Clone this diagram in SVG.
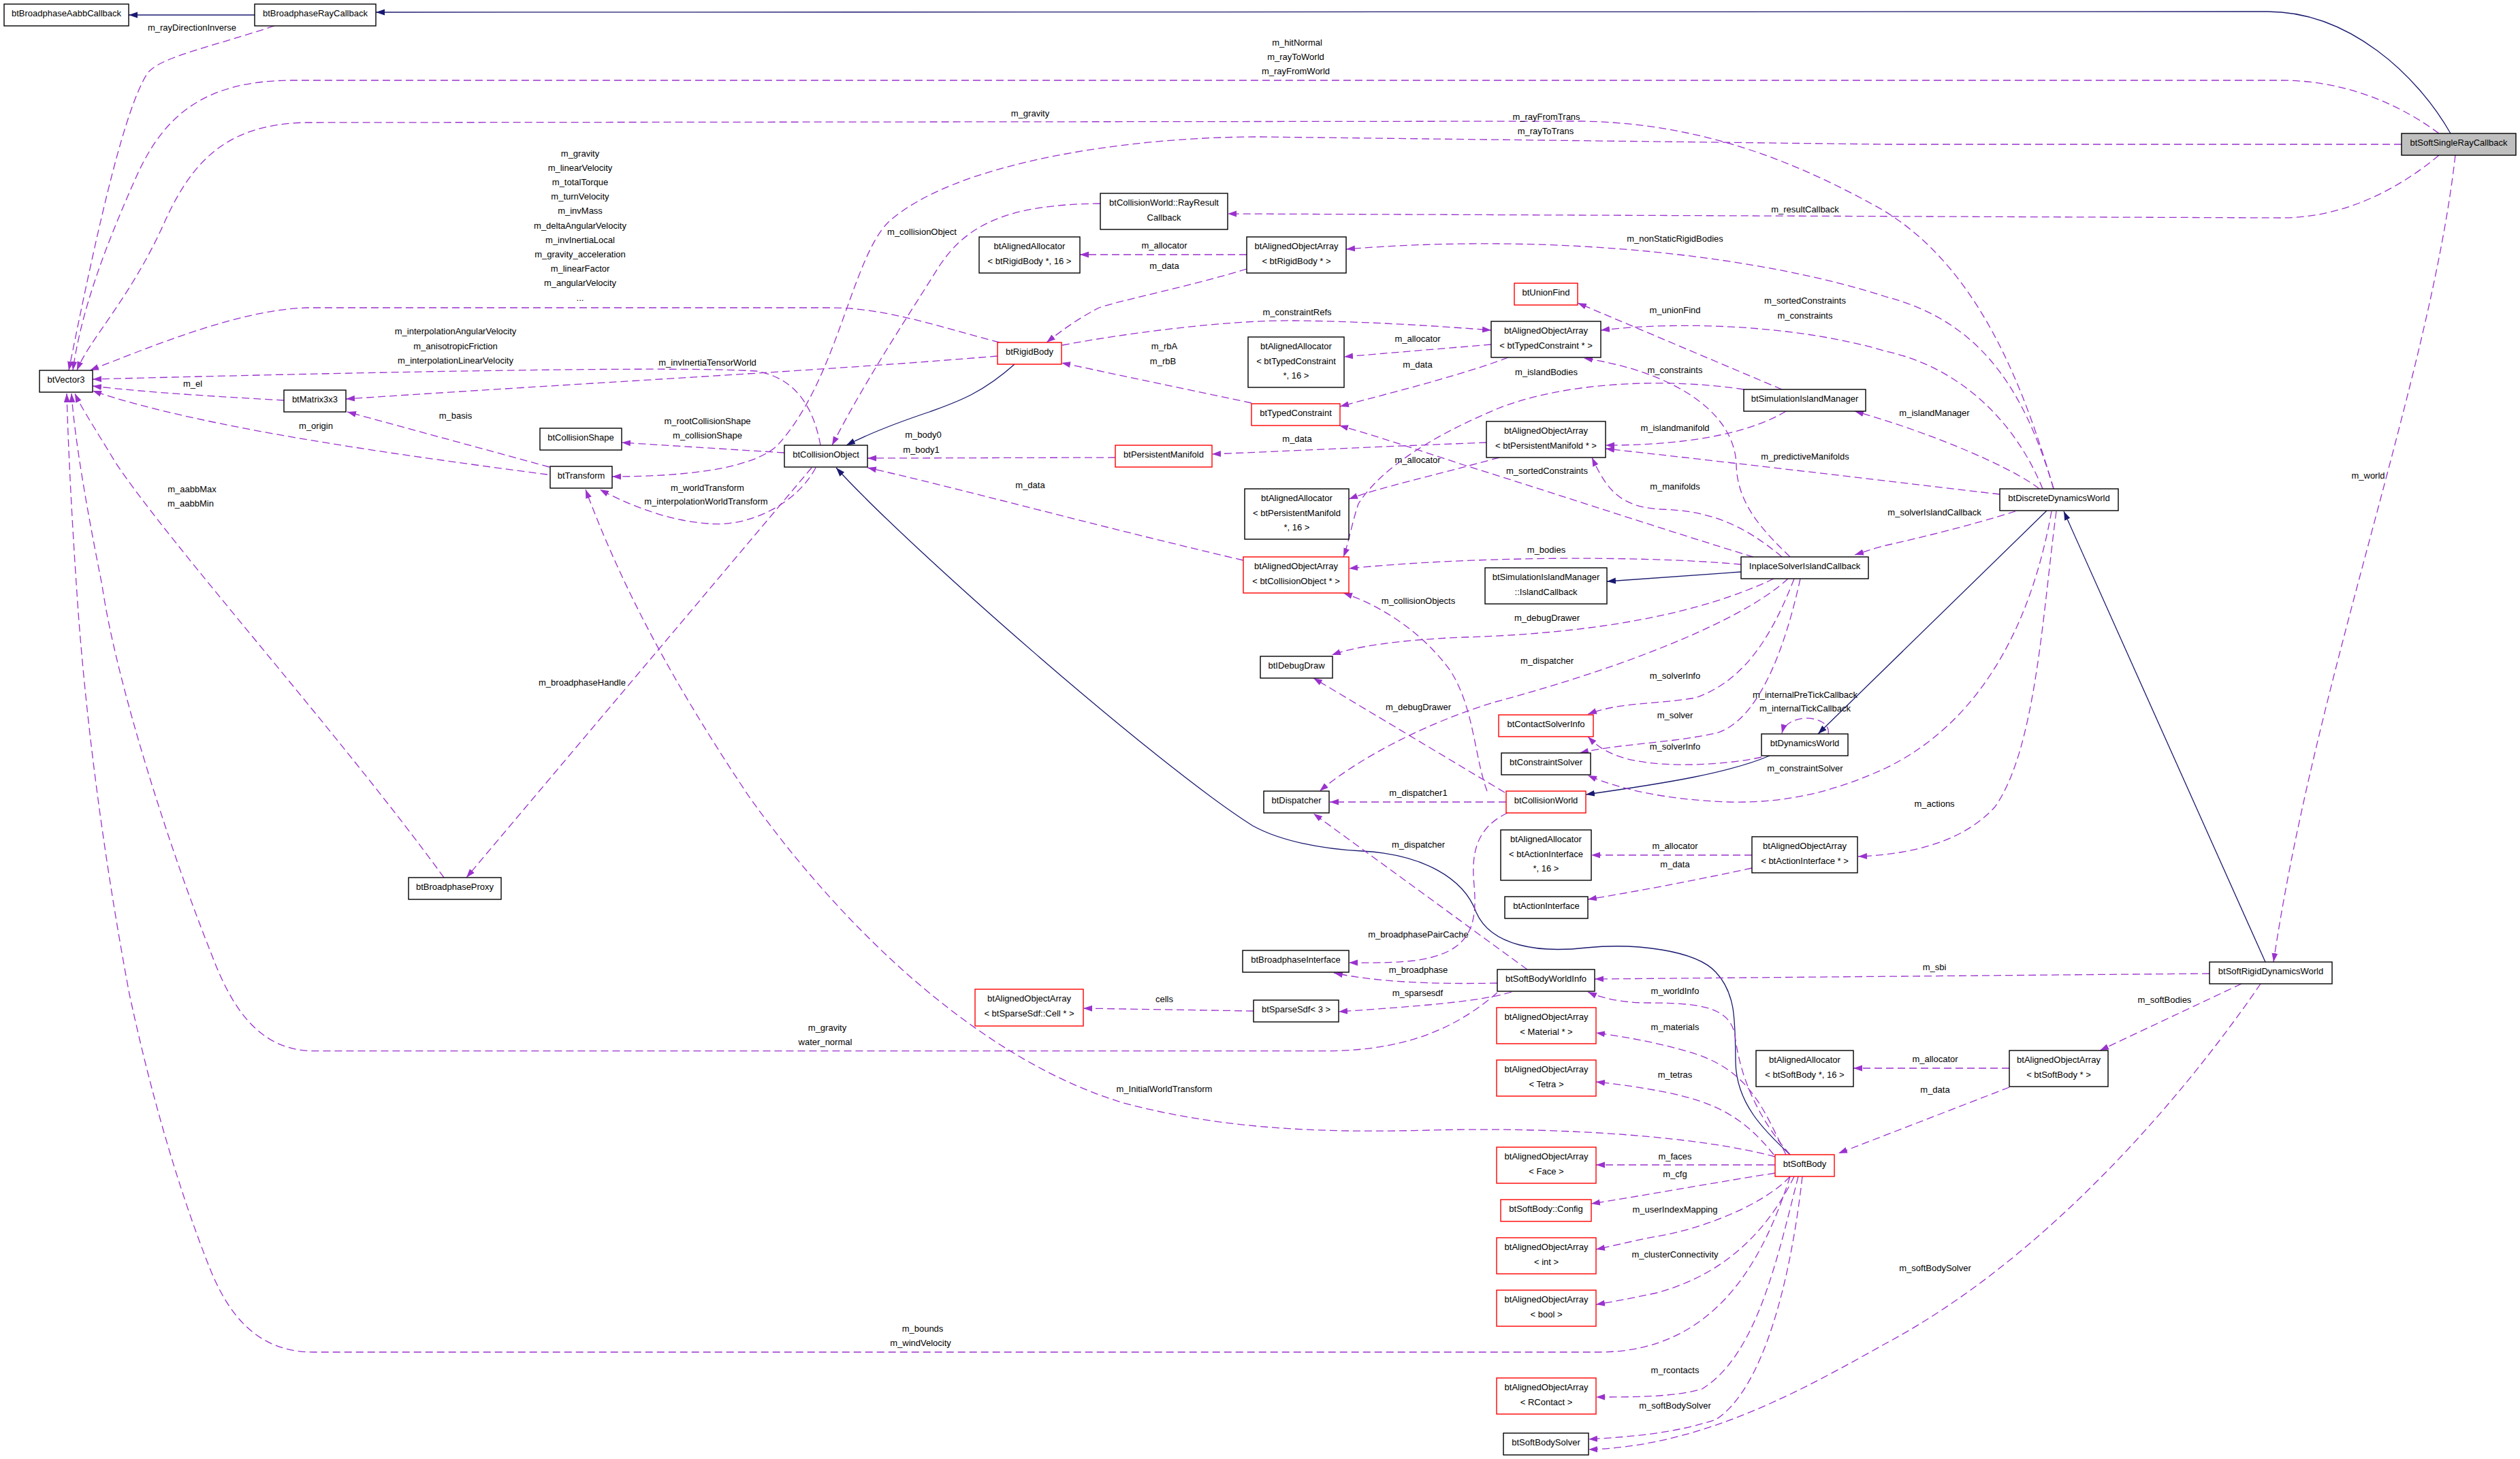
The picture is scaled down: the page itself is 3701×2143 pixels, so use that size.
<svg xmlns="http://www.w3.org/2000/svg" width="3701" height="2143" viewBox="0 0 3701 2143">
<defs>
<style>
.n rect{fill:#fff;stroke:#000;stroke-width:1.4}
.n.r rect{stroke:#f00}
.n.root rect{fill:#bfbfbf}
text{font-family:"Liberation Sans",Arial,Helvetica,sans-serif;font-size:13px;text-anchor:middle;fill:#000}
#edges path{fill:none}
.d{stroke:#9a32cd;stroke-width:1.3;stroke-dasharray:11,6;marker-end:url(#ap)}
.s{stroke:#191970;stroke-width:1.3;marker-end:url(#an)}
</style>
<marker id="ap" markerUnits="userSpaceOnUse" markerWidth="14" markerHeight="10" refX="13" refY="5" orient="auto"><path d="M0,0.5 L13,5 L0,9.5 z" fill="#9a32cd"/></marker>
<marker id="an" markerUnits="userSpaceOnUse" markerWidth="14" markerHeight="10" refX="13" refY="5" orient="auto"><path d="M0,0.5 L13,5 L0,9.5 z" fill="#191970"/></marker>
</defs>
<rect width="3701" height="2143" fill="#fff"/>
<g id="edges">
<path class="s" d="M374,22 L189,22"/>
<path class="s" d="M3599,196 C3550,110 3450,17 3330,17 L552,18"/>
<path class="s" d="M1490,535 C1440,580 1400,592 1365,605 C1320,620 1280,635 1243,654"/>
<path class="s" d="M2629,1696 C2590,1660 2550,1620 2549,1560 C2548,1500 2550,1460 2520,1428 C2490,1395 2400,1385 2330,1392 C2260,1400 2190,1390 2168,1340 C2150,1290 2090,1255 2000,1250 C1940,1247 1880,1235 1840,1213 C1700,1125 1330,800 1228,687"/>
<path class="s" d="M3006,750 L2670,1078"/>
<path class="s" d="M2599,1110 C2540,1135 2450,1150 2329,1167"/>
<path class="s" d="M3327,1413 L3031,751"/>
<path class="s" d="M2557,840 L2360,854"/>

<path class="d" d="M403,38 C300,72 230,85 215,110 C185,160 150,300 101,544"/>
<path class="d" d="M3582,196 C3520,150 3440,118 3350,118 L430,118 C300,118 240,170 200,260 C160,350 120,450 107,544"/>
<path class="d" d="M3016,718 C2970,560 2900,380 2750,300 C2640,240 2500,180 2320,178 L450,180 C330,182 280,240 240,330 C190,440 130,500 113,544"/>
<path class="d" d="M3527,212 L2770,212 L1850,201 C1650,201 1400,240 1305,326 C1250,380 1230,560 1140,656 C1100,690 1000,700 899,700"/>
<path class="d" d="M1616,299 C1480,300 1420,330 1380,390 C1330,470 1270,560 1222,654"/>
<path class="d" d="M3582,228 C3520,280 3440,320 3350,320 L1803,314"/>
<path class="d" d="M1468,503 C1380,480 1300,452 1220,452 L450,452 C350,455 220,510 132,544"/>
<path class="d" d="M1205,654 C1195,600 1170,555 1110,545 C1000,538 600,545 136,557"/>
<path class="d" d="M1465,523 C1200,545 900,560 508,586"/>
<path class="d" d="M417,588 C330,583 220,577 136,567"/>
<path class="d" d="M807,686 L510,605"/>
<path class="d" d="M804,697 C600,670 300,630 136,574"/>
<path class="d" d="M1152,665 L913,650"/>
<path class="d" d="M1198,687 C1170,740 1100,775 1040,769 C980,765 920,740 881,719"/>
<path class="d" d="M1192,687 L685,1289"/>
<path class="d" d="M2607,1699 C2500,1670 2300,1655 2100,1660 C1950,1664 1800,1660 1650,1620 C1450,1560 1250,1380 1100,1170 C1000,1020 920,880 860,719"/>
<path class="d" d="M652,1289 C500,1080 250,800 170,680 C140,630 120,600 110,578"/>
<path class="d" d="M2199,1458 C2150,1500 2080,1543 1950,1543.6 L460,1543.6 C380,1543 340,1480 310,1400 C250,1250 170,1000 150,860 C130,760 110,650 105,578"/>
<path class="d" d="M2629,1728 C2590,1850 2520,1985 2350,1986 L460,1986 C370,1986 330,1920 305,1855 C260,1740 220,1600 190,1460 C160,1300 130,1100 115,900 C105,760 100,650 98,578"/>
<path class="d" d="M3245,1430 L2342,1438"/>
<path class="d" d="M3606,228 C3570,550 3400,1000 3339,1413"/>
<path class="d" d="M3292,1445 L3084,1543"/>
<path class="d" d="M3320,1445 C3200,1620 3000,1850 2770,1973 C2650,2040 2500,2125 2333,2129"/>
<path class="d" d="M2951,1569 L2722,1569"/>
<path class="d" d="M2951,1597 L2700,1694"/>
<path class="d" d="M2629,1696 C2580,1640 2555,1580 2548,1520 C2540,1480 2500,1473 2420,1473 C2380,1473 2350,1465 2332,1457"/>
<path class="d" d="M2623,1696 C2590,1630 2570,1570 2480,1545 C2430,1530 2380,1522 2344,1517"/>
<path class="d" d="M2605,1696 C2560,1640 2520,1620 2450,1605 C2400,1595 2370,1592 2344,1589"/>
<path class="d" d="M2607,1711 L2344,1711"/>
<path class="d" d="M2607,1723 C2500,1740 2420,1755 2337,1768"/>
<path class="d" d="M2629,1728 C2590,1770 2500,1805 2433,1816 C2400,1822 2370,1830 2344,1835"/>
<path class="d" d="M2635,1728 C2600,1800 2540,1870 2433,1899 C2400,1906 2370,1912 2344,1916"/>
<path class="d" d="M2641,1728 C2610,1850 2580,1990 2500,2040 C2460,2052 2400,2052 2344,2052"/>
<path class="d" d="M2647,1728 C2630,1880 2590,2040 2520,2085 C2460,2105 2400,2110 2333,2114"/>
<path class="d" d="M2199,1444 C2100,1446 2020,1442 1959,1429"/>
<path class="d" d="M2220,1457 C2170,1472 2080,1478 1966,1486"/>
<path class="d" d="M1841,1485 L1591,1481"/>
<path class="d" d="M2243,1424 L1929,1195"/>
<path class="d" d="M2214,1194 C2170,1215 2160,1250 2165,1300 C2170,1360 2160,1400 2077,1411 C2040,1415 2010,1414 1981,1414"/>
<path class="d" d="M2212,1178 L1953,1178"/>
<path class="d" d="M2210,1164 L1929,996"/>
<path class="d" d="M2184,1162 C2165,1110 2165,1040 2130,985 C2090,930 2030,890 1973,871"/>
<path class="d" d="M2557,829 C2400,815 2150,818 1981,835"/>
<path class="d" d="M2605,850 C2500,900 2350,930 2150,936 C2050,940 1990,950 1956,962"/>
<path class="d" d="M2626,850 C2550,920 2350,990 2196,1031 C2100,1060 2000,1110 1938,1162"/>
<path class="d" d="M2635,850 C2600,940 2560,1000 2490,1025 C2430,1035 2380,1031 2332,1049"/>
<path class="d" d="M2644,850 C2620,960 2580,1060 2520,1077 C2450,1092 2380,1092 2320,1106"/>
<path class="d" d="M2587,1112 C2530,1125 2420,1130 2370,1108 C2350,1100 2340,1090 2332,1082"/>
<path class="d" d="M2685,1078 C2690,1050 2625,1045 2617,1077"/>
<path class="d" d="M3013,751 C2990,880 2930,1050 2770,1128 C2700,1160 2630,1180 2540,1178 C2450,1175 2380,1160 2332,1139"/>
<path class="d" d="M3020,751 C3000,900 2990,1100 2930,1185 C2880,1240 2800,1255 2729,1258"/>
<path class="d" d="M2960,751 C2900,770 2820,790 2770,801 C2750,806 2740,810 2724,815"/>
<path class="d" d="M2937,726 C2800,710 2550,680 2358,659"/>
<path class="d" d="M2995,718 C2960,690 2850,640 2724,604"/>
<path class="d" d="M3000,718 C2960,620 2880,540 2770,516 C2650,480 2480,470 2351,485"/>
<path class="d" d="M3016,718 C2970,560 2900,470 2770,436 C2600,380 2300,340 1977,366"/>
<path class="d" d="M2623,604 C2580,630 2500,654 2358,654"/>
<path class="d" d="M2617,572 L2317,445"/>
<path class="d" d="M2561,572 C2450,555 2300,560 2200,600 C2080,650 2020,700 1995,740 C1985,770 1980,800 1973,818"/>
<path class="d" d="M2629,818 C2590,780 2550,740 2550,680 C2545,600 2450,545 2326,526"/>
<path class="d" d="M2575,818 C2450,780 2300,730 2150,683 C2080,660 2020,640 1967,625"/>
<path class="d" d="M2617,818 C2560,770 2510,750 2440,748 C2380,745 2360,720 2338,672"/>
<path class="d" d="M2183,650 C2050,655 1900,662 1780,667"/>
<path class="d" d="M2202,672 C2100,700 2030,715 1981,733"/>
<path class="d" d="M1826,823 C1600,770 1400,715 1274,687"/>
<path class="d" d="M1638,672 L1274,673"/>
<path class="d" d="M1838,592 L1559,533"/>
<path class="d" d="M1560,507 C1650,490 1800,470 1900,471 C2000,472 2100,478 2190,485"/>
<path class="d" d="M2190,506 L1974,524"/>
<path class="d" d="M2215,525 C2150,550 2050,575 1968,597"/>
<path class="d" d="M1831,374 L1586,374"/>
<path class="d" d="M1831,395 C1750,420 1650,440 1614,452 C1580,470 1560,485 1537,503"/>
<path class="d" d="M2573,1256 L2337,1256"/>
<path class="d" d="M2573,1275 C2480,1295 2400,1310 2332,1321"/>

<text x="282" y="44.5">m_rayDirectionInverse</text>
<text x="1905" y="67">m_hitNormal</text>
<text x="1903" y="88">m_rayToWorld</text>
<text x="1903" y="109">m_rayFromWorld</text>
<text x="1513" y="171">m_gravity</text>
<text x="2271" y="175.5">m_rayFromTrans</text>
<text x="2270" y="196.5">m_rayToTrans</text>
<text x="1354" y="344.5">m_collisionObject</text>
<text x="2651" y="311.5">m_resultCallback</text>
<text x="2460" y="355">m_nonStaticRigidBodies</text>
<text x="1710" y="365">m_allocator</text>
<text x="1710" y="394.5">m_data</text>
<text x="852" y="229.5">m_gravity</text>
<text x="852" y="250.7">m_linearVelocity</text>
<text x="852" y="271.9">m_totalTorque</text>
<text x="852" y="293.1">m_turnVelocity</text>
<text x="852" y="314.3">m_invMass</text>
<text x="852" y="335.5">m_deltaAngularVelocity</text>
<text x="852" y="356.7">m_invInertiaLocal</text>
<text x="852" y="377.9">m_gravity_acceleration</text>
<text x="852" y="399.1">m_linearFactor</text>
<text x="852" y="420.3">m_angularVelocity</text>
<text x="852" y="441.5">...</text>
<text x="2651" y="445.5">m_sortedConstraints</text>
<text x="2651" y="467.5">m_constraints</text>
<text x="2460" y="460">m_unionFind</text>
<text x="1905" y="462.5">m_constraintRefs</text>
<text x="669" y="491.3">m_interpolationAngularVelocity</text>
<text x="669" y="512.5">m_anisotropicFriction</text>
<text x="669" y="533.5">m_interpolationLinearVelocity</text>
<text x="2082" y="501.5">m_allocator</text>
<text x="1710" y="512.5">m_rbA</text>
<text x="1708" y="534.5">m_rbB</text>
<text x="1039" y="537">m_invInertiaTensorWorld</text>
<text x="2082" y="540">m_data</text>
<text x="2460" y="548">m_constraints</text>
<text x="2271" y="551">m_islandBodies</text>
<text x="283" y="567.5">m_el</text>
<text x="2841" y="611">m_islandManager</text>
<text x="669" y="615">m_basis</text>
<text x="1039" y="623">m_rootCollisionShape</text>
<text x="1039" y="643.5">m_collisionShape</text>
<text x="464" y="629.5">m_origin</text>
<text x="2460" y="632.5">m_islandmanifold</text>
<text x="1356" y="642.5">m_body0</text>
<text x="1353" y="664.5">m_body1</text>
<text x="1905" y="649">m_data</text>
<text x="2651" y="675">m_predictiveManifolds</text>
<text x="2082" y="679.5">m_allocator</text>
<text x="2272" y="696">m_sortedConstraints</text>
<text x="1513" y="717">m_data</text>
<text x="2460" y="718.5">m_manifolds</text>
<text x="282" y="723">m_aabbMax</text>
<text x="280" y="744">m_aabbMin</text>
<text x="1039" y="720.5">m_worldTransform</text>
<text x="1037" y="741">m_interpolationWorldTransform</text>
<text x="3478" y="703">m_world</text>
<text x="2841" y="756.5">m_solverIslandCallback</text>
<text x="2271" y="812">m_bodies</text>
<text x="2083" y="887">m_collisionObjects</text>
<text x="2272" y="912">m_debugDrawer</text>
<text x="2272" y="975">m_dispatcher</text>
<text x="855" y="1007">m_broadphaseHandle</text>
<text x="2460" y="997">m_solverInfo</text>
<text x="2651" y="1024.5">m_internalPreTickCallback</text>
<text x="2651" y="1045">m_internalTickCallback</text>
<text x="2083" y="1043">m_debugDrawer</text>
<text x="2460" y="1055">m_solver</text>
<text x="2460" y="1101">m_solverInfo</text>
<text x="2651" y="1133">m_constraintSolver</text>
<text x="2083" y="1169">m_dispatcher1</text>
<text x="2841" y="1185">m_actions</text>
<text x="2083" y="1245">m_dispatcher</text>
<text x="2460" y="1247">m_allocator</text>
<text x="2460" y="1273.5">m_data</text>
<text x="2083" y="1377">m_broadphasePairCache</text>
<text x="2841" y="1424.5">m_sbi</text>
<text x="2083" y="1429">m_broadphase</text>
<text x="2460" y="1460">m_worldInfo</text>
<text x="2082" y="1463">m_sparsesdf</text>
<text x="1710" y="1472">cells</text>
<text x="3179" y="1473">m_softBodies</text>
<text x="2460" y="1513">m_materials</text>
<text x="1215" y="1513.5">m_gravity</text>
<text x="1212" y="1535">water_normal</text>
<text x="2842" y="1560">m_allocator</text>
<text x="2460" y="1583">m_tetras</text>
<text x="1710" y="1603.5">m_InitialWorldTransform</text>
<text x="2842" y="1605">m_data</text>
<text x="2460" y="1703">m_faces</text>
<text x="2460" y="1729">m_cfg</text>
<text x="2460" y="1780.5">m_userIndexMapping</text>
<text x="2460" y="1847">m_clusterConnectivity</text>
<text x="2842" y="1867">m_softBodySolver</text>
<text x="1355" y="1955.5">m_bounds</text>
<text x="1352" y="1977">m_windVelocity</text>
<text x="2460" y="2017">m_rcontacts</text>
<text x="2460" y="2068.5">m_softBodySolver</text>
</g>

<g id="btBroadphaseAabbCallback" class="n"><rect x="6" y="6" width="183" height="32"/><text x="97.5" y="24">btBroadphaseAabbCallback</text></g>
<g id="btBroadphaseRayCallback" class="n"><rect x="374" y="6" width="178" height="32"/><text x="463" y="24">btBroadphaseRayCallback</text></g>
<g id="btVector3" class="n"><rect x="58" y="544" width="78" height="32"/><text x="97" y="562">btVector3</text></g>
<g id="btMatrix3x3" class="n"><rect x="417" y="573" width="91" height="32"/><text x="462.5" y="591">btMatrix3x3</text></g>
<g id="btCollisionShape" class="n"><rect x="793" y="629" width="120" height="32"/><text x="853" y="647">btCollisionShape</text></g>
<g id="btTransform" class="n"><rect x="808" y="685" width="91" height="32"/><text x="853.5" y="703">btTransform</text></g>
<g id="RayResultCallback" class="n"><rect x="1616" y="284" width="187" height="53"/><text x="1709.5" y="302">btCollisionWorld::RayResult</text><text x="1709.5" y="324">Callback</text></g>
<g id="allocRigidBody" class="n"><rect x="1438" y="348" width="148" height="53"/><text x="1512" y="366">btAlignedAllocator</text><text x="1512" y="388">&lt; btRigidBody *, 16 &gt;</text></g>
<g id="arrRigidBody" class="n"><rect x="1831" y="348" width="146" height="53"/><text x="1904" y="366">btAlignedObjectArray</text><text x="1904" y="388">&lt; btRigidBody * &gt;</text></g>
<g id="btRigidBody" class="n r"><rect x="1465" y="503" width="94" height="32"/><text x="1512" y="521">btRigidBody</text></g>
<g id="btCollisionObject" class="n"><rect x="1152" y="654" width="122" height="32"/><text x="1213" y="672">btCollisionObject</text></g>
<g id="btPersistentManifold" class="n r"><rect x="1638" y="654" width="142" height="32"/><text x="1709" y="672">btPersistentManifold</text></g>
<g id="btTypedConstraint" class="n r"><rect x="1838" y="593" width="130" height="32"/><text x="1903" y="611">btTypedConstraint</text></g>
<g id="allocTypedConstraint" class="n"><rect x="1833" y="495" width="141" height="74"/><text x="1903.5" y="513">btAlignedAllocator</text><text x="1903.5" y="534.5">&lt; btTypedConstraint</text><text x="1903.5" y="556">*, 16 &gt;</text></g>
<g id="btUnionFind" class="n r"><rect x="2224" y="416" width="93" height="32"/><text x="2270.5" y="434">btUnionFind</text></g>
<g id="arrTypedConstraint" class="n"><rect x="2190" y="472" width="161" height="53"/><text x="2270.5" y="490">btAlignedObjectArray</text><text x="2270.5" y="512">&lt; btTypedConstraint * &gt;</text></g>
<g id="btSimulationIslandManager" class="n"><rect x="2561" y="572" width="179" height="32"/><text x="2650.5" y="590">btSimulationIslandManager</text></g>
<g id="arrPersistentManifold" class="n"><rect x="2183" y="619" width="175" height="53"/><text x="2270.5" y="637">btAlignedObjectArray</text><text x="2270.5" y="659">&lt; btPersistentManifold * &gt;</text></g>
<g id="btSoftSingleRayCallback" class="n root"><rect x="3527" y="196" width="168" height="32"/><text x="3611" y="214">btSoftSingleRayCallback</text></g>
<g id="btDiscreteDynamicsWorld" class="n"><rect x="2937" y="718" width="174" height="32"/><text x="3024" y="736">btDiscreteDynamicsWorld</text></g>
<g id="btSoftRigidDynamicsWorld" class="n"><rect x="3245" y="1413" width="180" height="32"/><text x="3335" y="1431">btSoftRigidDynamicsWorld</text></g>
<g id="allocPersistentManifold" class="n"><rect x="1828" y="718" width="153" height="74"/><text x="1904.5" y="736">btAlignedAllocator</text><text x="1904.5" y="757.5">&lt; btPersistentManifold</text><text x="1904.5" y="779">*, 16 &gt;</text></g>
<g id="arrCollisionObject" class="n r"><rect x="1826" y="818" width="155" height="53"/><text x="1903.5" y="836">btAlignedObjectArray</text><text x="1903.5" y="858">&lt; btCollisionObject * &gt;</text></g>
<g id="IslandCallback" class="n"><rect x="2181" y="834" width="179" height="53"/><text x="2270.5" y="852">btSimulationIslandManager</text><text x="2270.5" y="874">::IslandCallback</text></g>
<g id="InplaceSolverIslandCallback" class="n"><rect x="2557" y="818" width="187" height="32"/><text x="2650.5" y="836">InplaceSolverIslandCallback</text></g>
<g id="btIDebugDraw" class="n"><rect x="1851" y="964" width="106" height="32"/><text x="1904" y="982">btIDebugDraw</text></g>
<g id="btContactSolverInfo" class="n r"><rect x="2201" y="1050" width="139" height="32"/><text x="2270.5" y="1068">btContactSolverInfo</text></g>
<g id="btConstraintSolver" class="n"><rect x="2205" y="1106" width="131" height="32"/><text x="2270.5" y="1124">btConstraintSolver</text></g>
<g id="btDynamicsWorld" class="n"><rect x="2587" y="1078" width="127" height="32"/><text x="2650.5" y="1096">btDynamicsWorld</text></g>
<g id="btDispatcher" class="n"><rect x="1856" y="1162" width="96" height="32"/><text x="1904" y="1180">btDispatcher</text></g>
<g id="btCollisionWorld" class="n r"><rect x="2212" y="1162" width="117" height="32"/><text x="2270.5" y="1180">btCollisionWorld</text></g>
<g id="allocActionInterface" class="n"><rect x="2204" y="1219" width="133" height="74"/><text x="2270.5" y="1237">btAlignedAllocator</text><text x="2270.5" y="1258.5">&lt; btActionInterface</text><text x="2270.5" y="1280">*, 16 &gt;</text></g>
<g id="arrActionInterface" class="n"><rect x="2573" y="1229" width="155" height="53"/><text x="2650.5" y="1247">btAlignedObjectArray</text><text x="2650.5" y="1269">&lt; btActionInterface * &gt;</text></g>
<g id="btActionInterface" class="n"><rect x="2210" y="1317" width="122" height="32"/><text x="2271" y="1335">btActionInterface</text></g>
<g id="btBroadphaseInterface" class="n"><rect x="1825" y="1396" width="156" height="32"/><text x="1903" y="1414">btBroadphaseInterface</text></g>
<g id="btBroadphaseProxy" class="n"><rect x="600" y="1289" width="136" height="32"/><text x="668" y="1307">btBroadphaseProxy</text></g>
<g id="arrSparseSdfCell" class="n r"><rect x="1432" y="1453" width="159" height="54"/><text x="1511.5" y="1471">btAlignedObjectArray</text><text x="1511.5" y="1493">&lt; btSparseSdf::Cell * &gt;</text></g>
<g id="btSoftBodyWorldInfo" class="n"><rect x="2199" y="1424" width="143" height="32"/><text x="2270.5" y="1442">btSoftBodyWorldInfo</text></g>
<g id="btSparseSdf3" class="n"><rect x="1841" y="1469" width="125" height="32"/><text x="1903.5" y="1487">btSparseSdf&lt; 3 &gt;</text></g>
<g id="arrMaterial" class="n r"><rect x="2198" y="1480" width="146" height="53"/><text x="2271" y="1498">btAlignedObjectArray</text><text x="2271" y="1520">&lt; Material * &gt;</text></g>
<g id="arrTetra" class="n r"><rect x="2198" y="1557" width="146" height="53"/><text x="2271" y="1575">btAlignedObjectArray</text><text x="2271" y="1597">&lt; Tetra &gt;</text></g>
<g id="allocSoftBody" class="n"><rect x="2579" y="1543" width="143" height="53"/><text x="2650.5" y="1561">btAlignedAllocator</text><text x="2650.5" y="1583">&lt; btSoftBody *, 16 &gt;</text></g>
<g id="btSoftBody" class="n r"><rect x="2607" y="1696" width="87" height="32"/><text x="2650.5" y="1714">btSoftBody</text></g>
<g id="arrFace" class="n r"><rect x="2198" y="1685" width="146" height="53"/><text x="2271" y="1703">btAlignedObjectArray</text><text x="2271" y="1725">&lt; Face &gt;</text></g>
<g id="btSoftBodyConfig" class="n r"><rect x="2204" y="1762" width="133" height="32"/><text x="2270.5" y="1780">btSoftBody::Config</text></g>
<g id="arrInt" class="n r"><rect x="2198" y="1818" width="146" height="53"/><text x="2271" y="1836">btAlignedObjectArray</text><text x="2271" y="1858">&lt; int &gt;</text></g>
<g id="arrBool" class="n r"><rect x="2198" y="1895" width="146" height="53"/><text x="2271" y="1913">btAlignedObjectArray</text><text x="2271" y="1935">&lt; bool &gt;</text></g>
<g id="arrRContact" class="n r"><rect x="2198" y="2024" width="146" height="53"/><text x="2271" y="2042">btAlignedObjectArray</text><text x="2271" y="2064">&lt; RContact &gt;</text></g>
<g id="btSoftBodySolver" class="n"><rect x="2208" y="2105" width="125" height="32"/><text x="2270.5" y="2123">btSoftBodySolver</text></g>
<g id="arrSoftBody" class="n"><rect x="2951" y="1543" width="145" height="53"/><text x="3023.5" y="1561">btAlignedObjectArray</text><text x="3023.5" y="1583">&lt; btSoftBody * &gt;</text></g>
</svg>
